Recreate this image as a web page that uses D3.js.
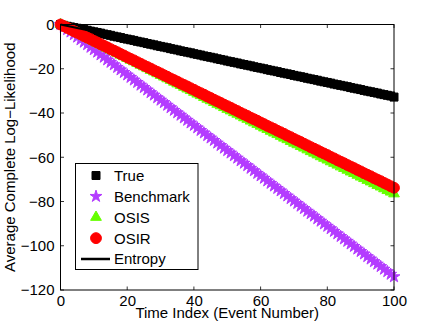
<!DOCTYPE html>
<html>
<head>
<meta charset="utf-8">
<script src="https://cdn.jsdelivr.net/npm/d3@7"></script>
<style>
  html, body { margin: 0; padding: 0; background: #fff; }
  svg { display: block; }
  text { font-family: "Liberation Sans", Arial, Helvetica, sans-serif; fill: #000; }
</style>
</head>
<body>
<svg id="chart" width="436" height="328"></svg>
<script>
// ---- data ----
const seriesNames = ["True", "Benchmark", "OSIS", "OSIR", "Entropy"];
const xTicks = [0, 20, 40, 60, 80, 100];
const yTicks = [0, -20, -40, -60, -80, -100, -120];
const xLabel = "Time Index (Event Number)";
const yLabel = "Average Complete Log\u2212Likelihood";

const trueVals = [
  0, -0.4, -0.8, -1.1, -1.4, -1.7, -2.0, -2.3, -2.6, -3.0,
  -3.3, -3.6, -3.9, -4.3, -4.6, -4.9, -5.3, -5.6, -5.9, -6.3,
  -6.6, -6.9, -7.2, -7.6, -7.9, -8.2, -8.6, -8.9, -9.2, -9.6,
  -9.9, -10.2, -10.5, -10.9, -11.2, -11.5, -11.9, -12.2, -12.5, -12.8,
  -13.2, -13.5, -13.8, -14.2, -14.5, -14.8, -15.1, -15.5, -15.8, -16.1,
  -16.5, -16.8, -17.1, -17.4, -17.8, -18.1, -18.4, -18.7, -19.1, -19.4,
  -19.7, -20.0, -20.4, -20.7, -21.0, -21.3, -21.7, -22.0, -22.3, -22.6,
  -23.0, -23.3, -23.6, -23.9, -24.3, -24.6, -24.9, -25.2, -25.6, -25.9,
  -26.2, -26.5, -26.9, -27.2, -27.5, -27.8, -28.1, -28.5, -28.8, -29.1,
  -29.4, -29.8, -30.1, -30.4, -30.7, -31.0, -31.4, -31.7, -32.0, -32.3,
  -32.8
];
const benchmarkVals = [
  0, -1.2, -2.3, -3.4, -4.6, -5.7, -6.9, -8.0, -9.1, -10.3,
  -11.4, -12.5, -13.7, -14.8, -16.0, -17.1, -18.2, -19.4, -20.5, -21.7,
  -22.8, -23.9, -25.1, -26.2, -27.4, -28.5, -29.6, -30.8, -31.9, -33.1,
  -34.2, -35.3, -36.5, -37.6, -38.8, -39.9, -41.0, -42.2, -43.3, -44.5,
  -45.6, -46.7, -47.9, -49.0, -50.2, -51.3, -52.4, -53.6, -54.7, -55.9,
  -57.0, -58.1, -59.3, -60.4, -61.6, -62.7, -63.8, -65.0, -66.1, -67.3,
  -68.4, -69.5, -70.7, -71.8, -73.0, -74.1, -75.2, -76.4, -77.5, -78.7,
  -79.8, -80.9, -82.1, -83.2, -84.4, -85.5, -86.6, -87.8, -88.9, -90.1,
  -91.2, -92.3, -93.5, -94.6, -95.8, -96.9, -98.0, -99.2, -100.3, -101.5,
  -102.6, -103.7, -104.9, -106.0, -107.2, -108.3, -109.4, -110.6, -111.7, -112.9,
  -114.0
];
const osisVals = [
  0, -0.8, -1.5, -2.3, -3.1, -3.8, -4.6, -5.4, -6.1, -6.9,
  -7.7, -8.4, -9.2, -10.0, -10.7, -11.5, -12.2, -13.0, -13.8, -14.5,
  -15.3, -16.1, -16.8, -17.6, -18.4, -19.1, -19.9, -20.7, -21.4, -22.2,
  -23.0, -23.7, -24.5, -25.2, -26.0, -26.8, -27.5, -28.3, -29.1, -29.8,
  -30.6, -31.4, -32.1, -32.9, -33.7, -34.4, -35.2, -36.0, -36.7, -37.5,
  -38.3, -39.0, -39.8, -40.5, -41.3, -42.1, -42.8, -43.6, -44.4, -45.1,
  -45.9, -46.7, -47.4, -48.2, -49.0, -49.7, -50.5, -51.3, -52.0, -52.8,
  -53.6, -54.3, -55.1, -55.8, -56.6, -57.4, -58.1, -58.9, -59.7, -60.4,
  -61.2, -62.0, -62.7, -63.5, -64.3, -65.0, -65.8, -66.6, -67.3, -68.1,
  -68.9, -69.6, -70.4, -71.1, -71.9, -72.7, -73.4, -74.2, -75.0, -75.7,
  -76.5
];
const osirVals = [
  0, -0.7, -1.5, -2.2, -3.0, -3.7, -4.4, -5.2, -5.9, -6.6,
  -7.4, -8.1, -8.9, -9.6, -10.3, -11.1, -11.8, -12.5, -13.3, -14.0,
  -14.8, -15.5, -16.2, -17.0, -17.7, -18.5, -19.2, -19.9, -20.7, -21.4,
  -22.1, -22.9, -23.6, -24.4, -25.1, -25.8, -26.6, -27.3, -28.0, -28.8,
  -29.5, -30.3, -31.0, -31.7, -32.5, -33.2, -34.0, -34.7, -35.4, -36.2,
  -36.9, -37.6, -38.4, -39.1, -39.9, -40.6, -41.3, -42.1, -42.8, -43.5,
  -44.3, -45.0, -45.8, -46.5, -47.2, -48.0, -48.7, -49.4, -50.2, -50.9,
  -51.7, -52.4, -53.1, -53.9, -54.6, -55.4, -56.1, -56.8, -57.6, -58.3,
  -59.0, -59.8, -60.5, -61.3, -62.0, -62.7, -63.5, -64.2, -64.9, -65.7,
  -66.4, -67.2, -67.9, -68.6, -69.4, -70.1, -70.8, -71.6, -72.3, -73.1,
  -73.8
];
const entropyX = [0, 10, 20, 30, 40, 50, 60, 70, 80, 90, 100];
const entropyVals = [0, -3.2, -6.5, -9.8, -13.1, -16.4, -19.7, -23.0, -26.2, -29.5, -32.8];

// ---- layout ----
const svg = d3.select("#chart");
const x = d3.scaleLinear().domain([0, 100]).range([60.5, 394]);
const y = d3.scaleLinear().domain([-120, 0]).range([290, 24.5]);
const FS = 15;
const colors = { True: "#000000", Benchmark: "#b43cff", OSIS: "#66ff00", OSIR: "#ff0000" };
const symbols = {
  True: d3.symbol().type(d3.symbolSquare).size(64),
  Benchmark: d3.symbol().type(d3.symbolStar).size(44),
  OSIS: d3.symbol().type(d3.symbolTriangle).size(50),
  OSIR: d3.symbol().type(d3.symbolCircle).size(92)
};

// axes box background
svg.append("rect").attr("x", x(0)).attr("y", y(0))
  .attr("width", x(100) - x(0)).attr("height", y(-120) - y(0))
  .attr("fill", "#fff");

// ticks (inward) on all four sides
const tickLen = 3.5;
const gT = svg.append("g").attr("stroke", "#000").attr("stroke-width", 0.8);
xTicks.forEach(t => {
  gT.append("line").attr("x1", x(t)).attr("x2", x(t)).attr("y1", y(-120)).attr("y2", y(-120) - tickLen);
  gT.append("line").attr("x1", x(t)).attr("x2", x(t)).attr("y1", y(0)).attr("y2", y(0) + tickLen);
});
yTicks.forEach(t => {
  gT.append("line").attr("x1", x(0)).attr("x2", x(0) + tickLen).attr("y1", y(t)).attr("y2", y(t));
  gT.append("line").attr("x1", x(100)).attr("x2", x(100) - tickLen).attr("y1", y(t)).attr("y2", y(t));
});

// tick labels via d3 axes (ticks hidden, labels only)
const xAxis = d3.axisBottom(x).tickValues(xTicks).tickSize(0).tickPadding(5).tickFormat(d3.format("d"));
const gx = svg.append("g").attr("transform", `translate(0,${y(-120)})`).call(xAxis);
gx.select(".domain").remove();
gx.selectAll("text").attr("font-size", FS).attr("font-family", "'Liberation Sans', Arial, sans-serif").attr("fill", "#000");

const yAxis = d3.axisLeft(y).tickValues(yTicks).tickSize(0).tickPadding(6).tickFormat(d3.format("d"));
const gy = svg.append("g").attr("transform", `translate(${x(0)},0)`).call(yAxis);
gy.select(".domain").remove();
gy.selectAll("text").attr("font-size", FS).attr("font-family", "'Liberation Sans', Arial, sans-serif").attr("fill", "#000");

// series markers
const plotData = [
  { name: "True", vals: trueVals },
  { name: "Benchmark", vals: benchmarkVals },
  { name: "OSIS", vals: osisVals },
  { name: "OSIR", vals: osirVals }
];
plotData.forEach(s => {
  svg.append("g").selectAll("path").data(s.vals).join("path")
    .attr("transform", (d, i) => `translate(${x(i)},${y(d)})`)
    .attr("d", symbols[s.name]())
    .attr("fill", colors[s.name])
    .attr("stroke", colors[s.name])
    .attr("stroke-width", 1);
});

// entropy line
svg.append("path")
  .datum(entropyX.map((d, i) => [d, entropyVals[i]]))
  .attr("fill", "none").attr("stroke", "#000").attr("stroke-width", 2)
  .attr("d", d3.line().x(d => x(d[0])).y(d => y(d[1])));

// axes box
svg.append("rect").attr("x", x(0)).attr("y", y(0))
  .attr("width", x(100) - x(0)).attr("height", y(-120) - y(0))
  .attr("fill", "none").attr("stroke", "#000").attr("stroke-width", 1);

// axis titles
svg.append("text").attr("x", (x(0) + x(100)) / 2).attr("y", 318)
  .attr("text-anchor", "middle").attr("font-size", FS).text(xLabel);
svg.append("text").attr("transform", `translate(15,${(y(0) + y(-120)) / 2}) rotate(-90)`)
  .attr("text-anchor", "middle").attr("font-size", FS).text(yLabel);

// legend
const lg = svg.append("g");
lg.append("rect").attr("x", 75.5).attr("y", 163.5).attr("width", 122.5).attr("height", 106)
  .attr("fill", "#fff").attr("stroke", "#000").attr("stroke-width", 1);
const rowY = d3.scalePoint().domain(seriesNames).range([175.5, 259]);
seriesNames.forEach(name => {
  const cy = rowY(name);
  if (name === "Entropy") {
    lg.append("line").attr("x1", 81).attr("x2", 110).attr("y1", cy).attr("y2", cy)
      .attr("stroke", "#000").attr("stroke-width", 2.5);
  } else {
    lg.append("path").attr("transform", `translate(96,${cy})`).attr("d", symbols[name]())
      .attr("fill", colors[name]).attr("stroke", colors[name]).attr("stroke-width", 1);
  }
  lg.append("text").attr("x", 114).attr("y", cy).attr("dy", "0.36em")
    .attr("font-size", FS).text(name);
});
</script>
</body>
</html>
